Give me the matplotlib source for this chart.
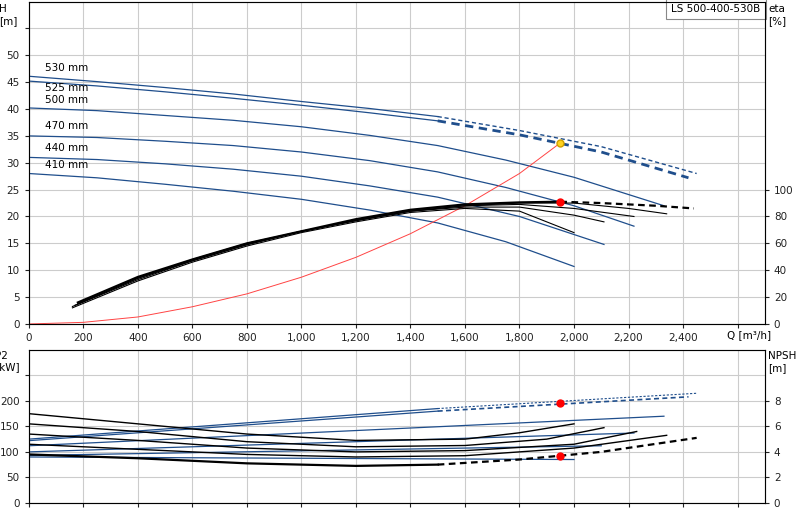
import matplotlib
matplotlib.use("Agg")
import matplotlib.pyplot as plt
import numpy as np

plt.rcParams['font.family'] = ['DejaVu Sans']
plt.rcParams['font.size'] = 7.5

BLUE = '#1f4e8c'
GRID = '#cccccc'

# head curves (Q m3/h, H m), solid part and dashed extension
head_labels = ['530 mm', '525 mm', '500 mm', '470 mm', '440 mm', '410 mm']
head_q = [
    [0, 250, 500, 750, 1000, 1250, 1500],
    [0, 250, 500, 750, 1000, 1250, 1500],
    [0, 250, 500, 750, 1000, 1250, 1500, 1750, 2000, 2330],
    [0, 250, 500, 750, 1000, 1250, 1500, 1750, 2000, 2220],
    [0, 250, 500, 750, 1000, 1250, 1500, 1800, 2110],
    [0, 250, 500, 750, 1000, 1250, 1500, 1750, 2000],
]
head_h = [
    [46.1, 45.1, 44.0, 42.8, 41.4, 40.1, 38.6],
    [45.2, 44.3, 43.2, 42.0, 40.7, 39.3, 37.8],
    [40.2, 39.7, 38.8, 37.9, 36.7, 35.1, 33.2, 30.5, 27.3, 22.0],
    [35.0, 34.7, 34.0, 33.2, 32.0, 30.4, 28.3, 25.4, 22.0, 18.2],
    [31.0, 30.6, 29.8, 28.8, 27.5, 25.7, 23.6, 20.0, 14.8],
    [28.0, 27.2, 26.0, 24.7, 23.2, 21.2, 18.8, 15.3, 10.7],
]
ext_q = [[1500, 1800, 2100, 2450], [1500, 1800, 2100, 2420]]
ext_h = [[38.6, 36.0, 33.0, 28.0], [37.8, 35.2, 32.0, 27.2]]
label_h = [47.0, 43.3, 41.2, 36.2, 32.2, 29.0]

# system curve
sys_q = [0, 200, 400, 600, 800, 1000, 1200, 1400, 1600, 1800, 1950]
sys_h = [0, 0.3, 1.3, 3.2, 5.6, 8.7, 12.4, 16.8, 22.0, 28.0, 33.7]

# efficiency curves (%)
eta_q = [
    [160, 400, 600, 800, 1000, 1200, 1400, 1600, 1800, 2000],
    [160, 400, 600, 800, 1000, 1200, 1400, 1600, 1800, 2000, 2110],
    [170, 400, 600, 800, 1000, 1200, 1400, 1600, 1800, 2000, 2220],
    [180, 400, 600, 800, 1000, 1200, 1400, 1600, 1800, 2000, 2200, 2340],
    [180, 400, 600, 800, 1000, 1200, 1400, 1600, 1800, 1950, 2100, 2300, 2440],
]
eta_v = [
    [12, 32, 46, 58, 68, 76, 83, 86, 84, 68],
    [13, 33, 47, 59, 69, 77, 84, 87, 87, 81, 76],
    [14, 34, 47, 59, 69, 77, 84, 88, 89, 86, 80],
    [15, 34, 48, 60, 69, 77, 84, 88, 90, 90, 86, 82],
    [16, 35, 48, 60, 69, 78, 85, 89, 90.5, 91, 90, 88, 86],
]

# P2 (kW)
p2_q = [[0, 1500], [0, 1500], [0, 2330], [0, 2220], [0, 2100], [0, 2000]]
p2_v = [[125, 185], [122, 180], [112, 170], [100, 137], [93, 112], [90, 85]]
p2_ext_q = [[1500, 2450], [1500, 2420]]
p2_ext_v = [[185, 215], [180, 208]]

# NPSH (m)
npsh_q = [
    [0, 400, 800, 1200, 1600, 1800, 2000],
    [0, 400, 800, 1200, 1600, 1900, 2110],
    [0, 400, 800, 1200, 1600, 2000, 2230],
    [0, 400, 800, 1200, 1600, 2000, 2340],
    [0, 400, 800, 1200, 1500],
]
npsh_v = [
    [7.0, 6.2, 5.4, 4.9, 5.0, 5.5, 6.2],
    [6.2, 5.6, 4.8, 4.4, 4.5, 5.0, 5.9],
    [5.4, 4.9, 4.3, 4.0, 4.1, 4.6, 5.6],
    [4.6, 4.2, 3.8, 3.6, 3.7, 4.3, 5.3],
    [3.8, 3.5, 3.1, 2.9, 3.0],
]
npsh_ext_q = [1500, 1800, 2100, 2450]
npsh_ext_v = [3.0, 3.4, 4.0, 5.1]

duty_q = 1950
duty_h, duty_eta, duty_p2, duty_npsh = 33.7, 91, 196, 3.7

xticks = np.arange(0, 2600, 200)

fig = plt.figure(figsize=(8, 5.2), dpi=100)
ax = fig.add_axes([0.036, 0.377, 0.92, 0.62])
ax2 = ax.twinx()
bx = fig.add_axes([0.036, 0.033, 0.92, 0.294])
bx2 = bx.twinx()

for a in (ax, bx):
    a.set_xlim(0, 2700)
    a.set_xticks(np.arange(0, 2800, 200))
    a.grid(True, color=GRID, lw=0.8)
    a.set_axisbelow(True)
    for s in a.spines.values():
        s.set_color('#888888')
    a.tick_params(length=3, colors='#222222')

ax.set_xticklabels([f'{v:,}' for v in xticks] + [''])
bx.set_xticklabels([])
ax.text(2560, -2.6, 'Q [m³/h]', fontsize=7.5)

# top panel
ax.set_ylim(0, 60)
ax.set_yticks(np.arange(0, 60, 5))
ax.set_yticklabels([str(v) for v in range(0, 55, 5)] + [''])
ax2.set_ylim(0, 240)
ax2.set_yticks([0, 20, 40, 60, 80, 100])
ax.text(-110, 59.5, 'H\n[m]', fontsize=7.5, va='top')
ax2.text(2712, 238, 'eta\n[%]', fontsize=7.5, va='top')

for q, h, lab, ly in zip(head_q, head_h, head_labels, label_h):
    ax.plot(q, h, color=BLUE, lw=0.9)
    ax.text(60, ly, lab, fontsize=7.5)
ax.plot(ext_q[0], ext_h[0], color=BLUE, lw=1.0, ls=(0, (3, 2)))
ax.plot(ext_q[1], ext_h[1], color=BLUE, lw=2.0, ls=(0, (3, 2)))
ax.plot(sys_q, sys_h, color='#ff4444', lw=0.7)
ax.plot(duty_q, duty_h, 'o', color='#ffd21f', mec='#d0a000', ms=5)

for i, (q, e) in enumerate(zip(eta_q, eta_v)):
    if i == len(eta_q) - 1:
        q = np.array(q); e = np.array(e)
        ax2.plot(q[q <= 1950], e[q <= 1950], color='black', lw=1.6)
        ax2.plot(q[q >= 1950], e[q >= 1950], color='black', lw=1.6, ls=(0, (3, 2)))
    else:
        ax2.plot(q, e, color='black', lw=0.8)
ax2.plot(duty_q, duty_eta, 'o', color='red', ms=5)

ax.text(0.994, 0.992, 'LS 500-400-530B', transform=ax.transAxes, ha='right', va='top',
        fontsize=7.5, bbox=dict(boxstyle='square,pad=0.5', fc='white', ec='#888888', lw=0.8))

# bottom panel
bx.set_ylim(0, 300)
bx.set_yticks(np.arange(0, 300, 50))
bx.set_yticklabels([str(v) for v in range(0, 250, 50)] + [''])
bx2.set_ylim(0, 12)
bx2.set_yticks([0, 2, 4, 6, 8])
bx.text(-125, 298, 'P2\n[kW]', fontsize=7.5, va='top')
bx2.text(2712, 11.9, 'NPSH\n[m]', fontsize=7.5, va='top')

for q, v in zip(p2_q, p2_v):
    bx.plot(q, v, color=BLUE, lw=0.9)
bx.plot(p2_ext_q[0], p2_ext_v[0], color=BLUE, lw=0.8, ls=(0, (2, 1.5)))
bx.plot(p2_ext_q[1], p2_ext_v[1], color=BLUE, lw=1.2, ls=(0, (3, 2)))
bx.plot(duty_q, duty_p2, 'o', color='red', ms=5)

for i, (q, v) in enumerate(zip(npsh_q, npsh_v)):
    bx2.plot(q, v, color='black', lw=1.6 if i == 4 else 1.0)
bx2.plot(npsh_ext_q, npsh_ext_v, color='black', lw=1.6, ls=(0, (3, 2)))
bx2.plot(duty_q, duty_npsh, 'o', color='red', ms=5)

for a in (ax2, bx2):
    a.tick_params(length=3, colors='#222222')

fig.savefig('out.png', dpi=100)
